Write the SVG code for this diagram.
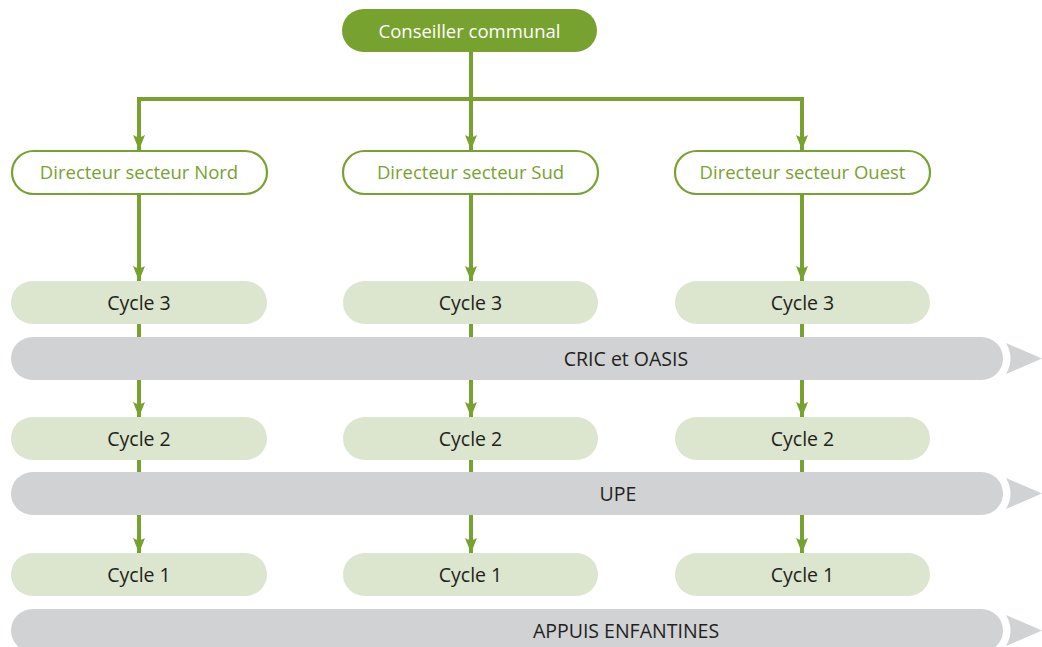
<svg xmlns="http://www.w3.org/2000/svg" width="1042" height="647" viewBox="0 0 1042 647">
<style>
.ln{stroke:#78a22f;stroke-width:4;fill:none}
.top{fill:#78a22f}
.dir{fill:#fff;stroke:#78a22f;stroke-width:2.2}
.cyc{fill:#dce5cd}
.bar{fill:#d1d2d4}
.t{font-family:"Open Sans","Noto Sans",sans-serif;font-size:18.5px;text-anchor:middle}
.tw{fill:#fff}
.tg{fill:#78a22f}
.td{fill:#231f20;font-size:19.5px}
</style>
<defs>
<marker id="ah" viewBox="0 0 15 12" refX="15" refY="6" markerWidth="15" markerHeight="12" markerUnits="userSpaceOnUse" orient="auto">
<path d="M0,0 Q4,6 0,12 L15,6 Z" fill="#78a22f"/>
</marker>
<path id="chev" d="M0,0 L36,15.5 L0,31 Q9,15.5 0,0 Z" fill="#d1d2d4"/>
</defs>
<g id="connectors">
<path class="ln" d="M471,52 V99 M137,99 H804"/>
<path class="ln" d="M139,97 V150" marker-end="url(#ah)"/>
<path class="ln" d="M471,99 V150" marker-end="url(#ah)"/>
<path class="ln" d="M802,97 V150" marker-end="url(#ah)"/>
<path class="ln" d="M139,194 V281" marker-end="url(#ah)"/>
<path class="ln" d="M471,194 V281" marker-end="url(#ah)"/>
<path class="ln" d="M802,194 V281" marker-end="url(#ah)"/>
<path class="ln" d="M139,324 V417" marker-end="url(#ah)"/>
<path class="ln" d="M471,324 V417" marker-end="url(#ah)"/>
<path class="ln" d="M802,324 V417" marker-end="url(#ah)"/>
<path class="ln" d="M139,460 V553" marker-end="url(#ah)"/>
<path class="ln" d="M471,460 V553" marker-end="url(#ah)"/>
<path class="ln" d="M802,460 V553" marker-end="url(#ah)"/>
</g>
<g id="conseiller"><rect class="top" x="342" y="9" width="255" height="43" rx="21.5"/><text class="t tw" x="469.5" y="38">Conseiller communal</text></g>
<g id="dir-nord"><rect class="dir" x="12" y="151" width="255" height="43" rx="21.5"/><text class="t tg" x="139" y="179">Directeur secteur Nord</text></g>
<g id="dir-sud"><rect class="dir" x="343" y="151" width="255" height="43" rx="21.5"/><text class="t tg" x="470.5" y="179">Directeur secteur Sud</text></g>
<g id="dir-ouest"><rect class="dir" x="675" y="151" width="255" height="43" rx="21.5"/><text class="t tg" x="802.5" y="179">Directeur secteur Ouest</text></g>
<g id="nord-c3"><rect class="cyc" x="11" y="281" width="256" height="43" rx="21.5"/><text class="t td" x="139" y="310">Cycle 3</text></g>
<g id="sud-c3"><rect class="cyc" x="343" y="281" width="255" height="43" rx="21.5"/><text class="t td" x="470.5" y="310">Cycle 3</text></g>
<g id="ouest-c3"><rect class="cyc" x="675" y="281" width="255" height="43" rx="21.5"/><text class="t td" x="802.5" y="310">Cycle 3</text></g>
<g id="cric"><rect class="bar" x="11" y="337" width="992" height="43" rx="21.5"/><use href="#chev" x="1006" y="343"/><text class="t td" x="626" y="366">CRIC et OASIS</text></g>
<g id="nord-c2"><rect class="cyc" x="11" y="417" width="256" height="43" rx="21.5"/><text class="t td" x="139" y="446">Cycle 2</text></g>
<g id="sud-c2"><rect class="cyc" x="343" y="417" width="255" height="43" rx="21.5"/><text class="t td" x="470.5" y="446">Cycle 2</text></g>
<g id="ouest-c2"><rect class="cyc" x="675" y="417" width="255" height="43" rx="21.5"/><text class="t td" x="802.5" y="446">Cycle 2</text></g>
<g id="upe"><rect class="bar" x="11" y="472" width="992" height="43" rx="21.5"/><use href="#chev" x="1006" y="478"/><text class="t td" x="618" y="501">UPE</text></g>
<g id="nord-c1"><rect class="cyc" x="11" y="553" width="256" height="43" rx="21.5"/><text class="t td" x="139" y="582">Cycle 1</text></g>
<g id="sud-c1"><rect class="cyc" x="343" y="553" width="255" height="43" rx="21.5"/><text class="t td" x="470.5" y="582">Cycle 1</text></g>
<g id="ouest-c1"><rect class="cyc" x="675" y="553" width="255" height="43" rx="21.5"/><text class="t td" x="802.5" y="582">Cycle 1</text></g>
<g id="appuis"><rect class="bar" x="11" y="609" width="992" height="43" rx="21.5"/><use href="#chev" x="1006" y="615"/><text class="t td" x="626" y="638">APPUIS ENFANTINES</text></g>
</svg>
